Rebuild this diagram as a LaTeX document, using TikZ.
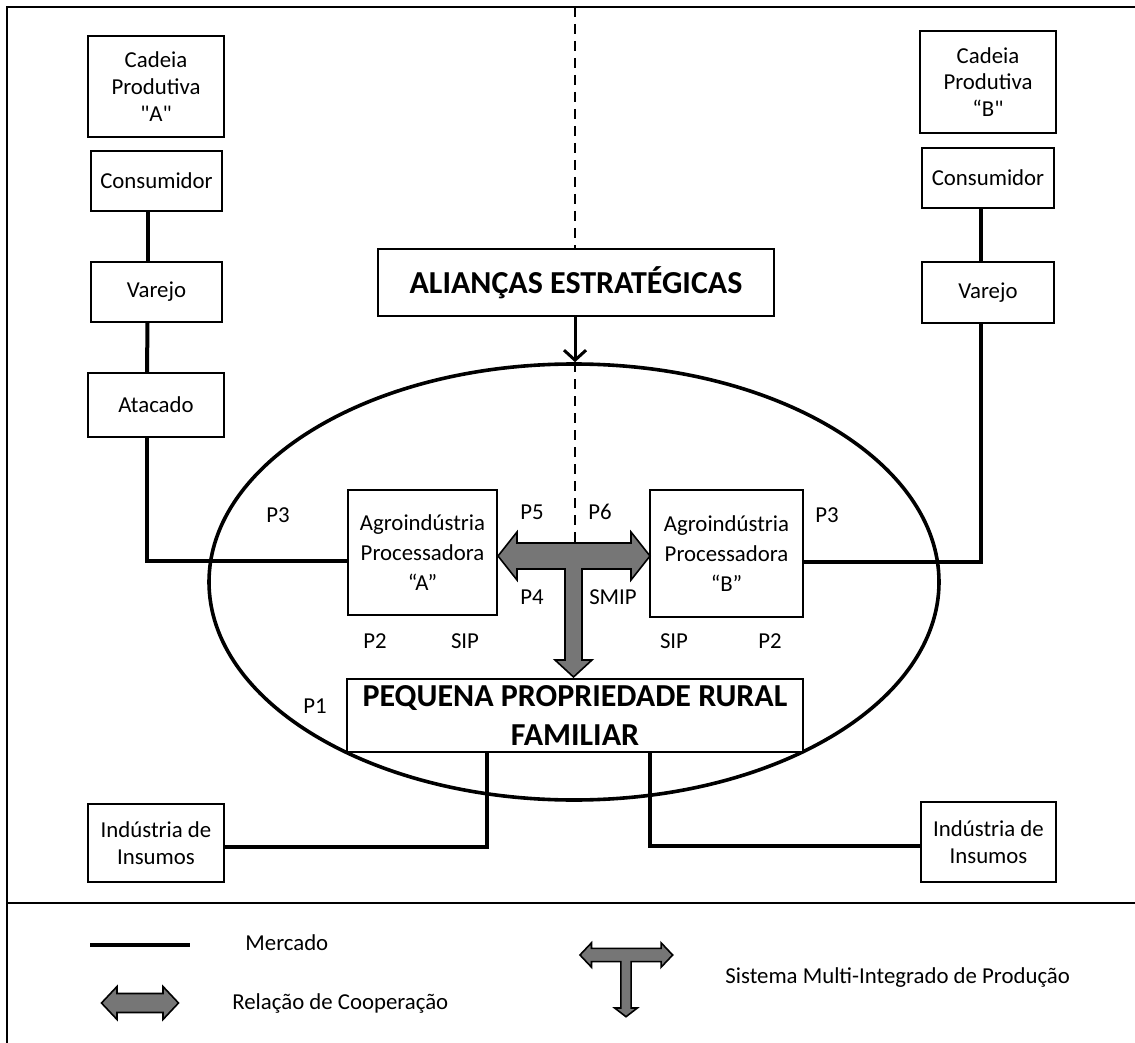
\documentclass[tikz,border=0pt]{standalone}
\usepackage{fontspec}
\setmainfont{Carlito}[Ligatures=TeXOff]
\usetikzlibrary{arrows.meta,positioning,shapes.geometric}
\definecolor{coopgray}{RGB}{118,118,118}
\tikzset{
  stage/.style={draw=black, line width=1pt, fill=white, align=center, inner sep=1pt, font=\fontsize{11.4}{13.3}\selectfont},
  agro/.style={stage, font=\fontsize{11.4}{15}\selectfont},
  headbox/.style={draw=black, line width=1pt, fill=white, align=center, inner sep=1pt, font=\fontsize{16}{19.5}\selectfont\bfseries},
  market/.style={line width=2pt},
  axis/.style={line width=1pt, dash pattern=on 5pt off 3.5pt},
  tag/.style={font=\fontsize{11.4}{13.3}\selectfont, inner sep=0pt},
  smip/.pic={
    \filldraw[fill=coopgray, draw=black, line width=0.8pt]
      (-75.5,0) -- (-56.5,-24) -- (-56.5,-13) -- (57.5,-13) -- (57.5,-24) -- (76.5,0)
      -- (57.5,24) -- (57.5,13) -- (8.5,13) -- (8.5,104) -- (18.5,104) -- (0,121)
      -- (-18.5,104) -- (-8.5,104) -- (-8.5,13) -- (-56.5,13) -- (-56.5,24) -- cycle;
  },
  coop/.pic={
    \filldraw[fill=coopgray, draw=black, line width=0.8pt]
      (-38.5,0) -- (-23,-16.5) -- (-23,-9.5) -- (23,-9.5) -- (23,-16.5) -- (38.5,0)
      -- (23,16.5) -- (23,9.5) -- (-23,9.5) -- (-23,16.5) -- cycle;
  }
}

\begin{document}
\begin{tikzpicture}[x=0.5pt, y=-0.5pt, >=Stealth]
  \useasboundingbox (0,0) rectangle (1135,1043);
  % frame
  \draw[line width=1.3pt] (1135,7) -- (7,7) -- (7,1043);
  \draw[line width=1pt] (7,903) -- (1135,903);

  \node[draw, ellipse, line width=1.8pt, minimum width=365pt, minimum height=218pt, inner sep=0pt] (farm) at (574,582) {};

  % chain A
  \node[stage, minimum width=68pt, minimum height=50.5pt] (cadA) at (156,86.5) {Cadeia\\Produtiva\\"A"};
  \node[stage, minimum width=65.5pt, minimum height=30pt] (consA) at (156.5,181) {Consumidor};
  \node[stage, minimum width=65.5pt, minimum height=30pt] (varA) at (156.5,292) {Varejo};
  \node[stage, minimum width=68pt, minimum height=32pt] (ataA) at (156,405) {Atacado};
  % chain B
  \node[stage, minimum width=68pt, minimum height=51pt] (cadB) at (988,82) {Cadeia\\Produtiva\\“B"};
  \node[stage, minimum width=66pt, minimum height=30pt] (consB) at (988,178) {Consumidor};
  \node[stage, minimum width=66pt, minimum height=30.5pt] (varB) at (988,292.5) {Varejo};

  \node[headbox, minimum width=198pt, minimum height=33.5pt] (alianca) at (576,282.5) {ALIANÇAS ESTRATÉGICAS};
  \coordinate (axtop) at (575,7);
  \coordinate (axbot) at (575,543);
  \draw[axis] (axtop) -- (axtop |- alianca.north);
  \draw[axis] (axbot |- farm.north) -- (axbot);
  \draw[line width=1.5pt, -{Straight Barb[length=5pt,width=11pt]}] (alianca.south -| axtop) -- (axtop |- farm.north);

  % market links
  \draw[market] ([xshift=-4.5pt]consA.south) -- ([xshift=-4.5pt]varA.north);
  \draw[market] ([xshift=-4.5pt]varA.south) -- ([xshift=-4.5pt]ataA.north);
  \draw[market] ([xshift=-3.5pt]consB.south) -- ([xshift=-3.5pt]varB.north);

  \node[agro, minimum width=74.5pt, minimum height=62.5pt] (agroA) at (422.5,552.5) {Agroindústria\\Processadora\\“A”};
  \node[agro, minimum width=76.5pt, minimum height=63.5pt] (agroB) at (726.5,553.5) {Agroindústria\\Processadora\\“B”};
  \node[headbox, minimum width=228pt, minimum height=36.5pt] (peq) at (575,715.5) {PEQUENA PROPRIEDADE RURAL\\FAMILIAR};
  \node[stage, minimum width=68pt, minimum height=39pt] (indA) at (156,843) {Indústria de\\Insumos};
  \node[stage, minimum width=67.5pt, minimum height=40pt] (indB) at (988.5,842) {Indústria de\\Insumos};

  \draw[market] ([xshift=-4.5pt]ataA.south) |- ([yshift=-4pt]agroA.west);
  \draw[market] ([xshift=-3.5pt]varB.south) |- ([yshift=-4pt]agroB.east);
  \draw[market] ([xshift=-44pt]peq.south) |- ([yshift=-2pt]indA.east);
  \draw[market] ([xshift=37.5pt]peq.south) |- ([yshift=-2pt]indB.west);

  \pic at (573.5,556) {smip};

  % labels
  \node[tag] (p3a) at (278,515) {P3};
  \node[tag] (p3b) at (827,515) {P3};
  \node[tag] (p5) at (532,512) {P5};
  \node[tag] (p6) at (600,512) {P6};
  \node[tag] (p4) at (532,597) {P4};
  \node[tag] (smiptag) at (613,597) {SMIP};
  \node[tag] (p2a) at (375,641) {P2};
  \node[tag] (sipa) at (465,641) {SIP};
  \node[tag] (sipb) at (674,641) {SIP};
  \node[tag] (p2b) at (770,641) {P2};
  \node[tag] (p1) at (315,706) {P1};

  % legend
  \coordinate (mkA) at (90,945);
  \coordinate (mkB) at (190,945);
  \draw[market] (mkA) -- (mkB);
  \node[tag, anchor=west] (mktxt) at (245,943) {Mercado};
  \pic at (140,1003) {coop};
  \node[tag, anchor=west] (cooptxt) at (232,1003) {Relação de Cooperação};
  \pic[xscale=0.61, yscale=0.51] at (626,955) {smip};
  \node[tag, anchor=west] (smiptxt) at (725,978) {Sistema Multi-Integrado de Produção};
\end{tikzpicture}
\end{document}
